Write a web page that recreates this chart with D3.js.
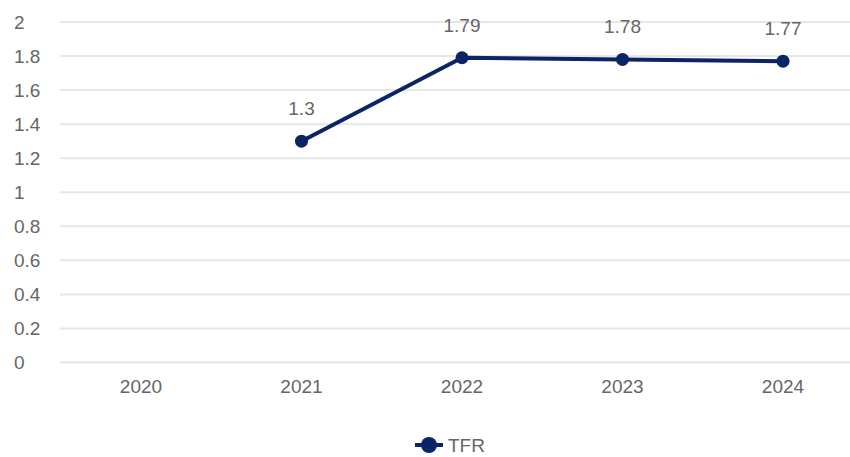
<!DOCTYPE html>
<html lang="en">
<head>
    <meta charset="UTF-8">
    <title>TFR</title>
    <script src="https://d3js.org/d3.v7.min.js"></script>
    <style>
        body {
            margin: 0;
            padding: 0;
            background: #fff;
            font-family: "Liberation Sans", Arial, sans-serif;
        }
        svg { display: block; }
    </style>
</head>
<body>
    <svg id="chart" width="850" height="457"></svg>

    <script>
        // data
        const years = ["2020", "2021", "2022", "2023", "2024"];
        const tfr = [null, 1.3, 1.79, 1.78, 1.77];
        const yTicks = [0, 0.2, 0.4, 0.6, 0.8, 1, 1.2, 1.4, 1.6, 1.8, 2];
        const seriesName = "TFR";

        const lineColor = "#0a2466";
        const textColor = "#666";

        const svg = d3.select("#chart");

        const x = d3.scaleBand().domain(years).range([60.75, 863.25]).padding(0);
        const y = d3.scaleLinear().domain([0, 2]).range([362.5, 22]);

        // Gridlines
        svg.append("g")
            .selectAll("line")
            .data(yTicks)
            .enter().append("line")
            .attr("x1", 60)
            .attr("x2", 850)
            .attr("y1", d => y(d))
            .attr("y2", d => y(d))
            .attr("stroke", "#e6e6e6")
            .attr("stroke-width", 2);

        // Y tick labels (left aligned)
        svg.append("g")
            .selectAll("text")
            .data(yTicks)
            .enter().append("text")
            .attr("x", 14)
            .attr("y", d => y(d))
            .attr("dy", "0.35em")
            .attr("fill", textColor)
            .style("font-size", "19px")
            .text(d => d);

        // X axis labels
        const xAxis = svg.append("g")
            .attr("transform", "translate(0,393)")
            .call(d3.axisBottom(x).tickSize(0).tickPadding(0));
        xAxis.select(".domain").remove();
        xAxis.selectAll("text")
            .attr("dy", 0)
            .attr("fill", textColor)
            .style("font-size", "19px")
            .style("font-family", "'Liberation Sans', Arial, sans-serif");

        const pts = years.map((yr, i) => ({ year: yr, value: tfr[i] }))
            .filter(d => d.value != null);
        const cx = d => x(d.year) + x.bandwidth() / 2;

        // Line
        svg.append("path")
            .datum(pts)
            .attr("fill", "none")
            .attr("stroke", lineColor)
            .attr("stroke-width", 4)
            .attr("stroke-linejoin", "round")
            .attr("d", d3.line().x(cx).y(d => y(d.value)));

        // Points
        svg.append("g")
            .selectAll("circle")
            .data(pts)
            .enter().append("circle")
            .attr("cx", cx)
            .attr("cy", d => y(d.value))
            .attr("r", 6.5)
            .attr("fill", lineColor);

        // Value labels
        svg.append("g")
            .selectAll("text")
            .data(pts)
            .enter().append("text")
            .attr("x", cx)
            .attr("y", d => y(d.value) - 26)
            .attr("text-anchor", "middle")
            .attr("fill", textColor)
            .style("font-size", "19px")
            .text(d => d.value);

        // Legend
        const legend = svg.append("g").attr("transform", "translate(429,445)");
        legend.append("line")
            .attr("x1", -14).attr("x2", 14)
            .attr("stroke", lineColor)
            .attr("stroke-width", 4);
        legend.append("circle")
            .attr("r", 8)
            .attr("fill", lineColor);
        legend.append("text")
            .attr("x", 19)
            .attr("y", 7)
            .attr("fill", textColor)
            .style("font-size", "19px")
            .text(seriesName);
    </script>
</body>
</html>
